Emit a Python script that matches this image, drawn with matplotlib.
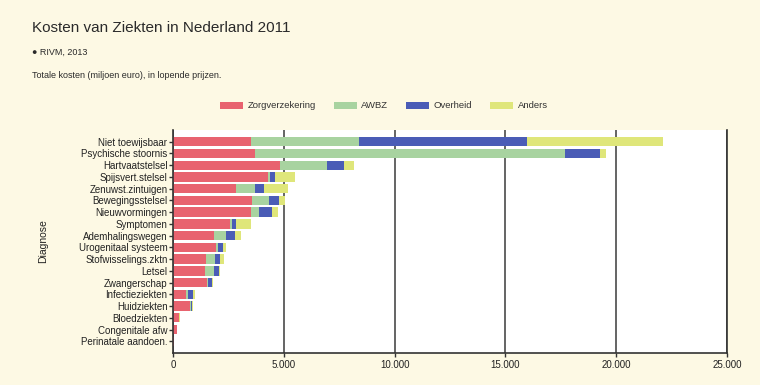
import matplotlib
matplotlib.use("Agg")
import matplotlib.pyplot as plt
from matplotlib.ticker import FuncFormatter
import numpy as np

plt.rcParams['font.family'] = ['Liberation Sans', 'DejaVu Sans']

categories = ["Niet toewijsbaar", "Psychische stoornis", "Hartvaatstelsel", "Spijsvert.stelsel",
              "Zenuwst.zintuigen", "Bewegingsstelsel", "Nieuwvormingen", "Symptomen",
              "Ademhalingswegen", "Urogenitaal systeem", "Stofwisselings.zktn", "Letsel",
              "Zwangerschap", "Infectieziekten", "Huidziekten", "Bloedziekten",
              "Congenitale afw", "Perinatale aandoen."]

zorgverzekering = [3510, 3710, 4830, 4280, 2830, 3560, 3510, 2570, 1840, 1930, 1470, 1450, 1540, 570, 770, 260, 170, 40]
awbz            = [4880, 13960, 2130, 110, 880, 790, 370, 110, 530, 110, 420, 420, 40, 90, 60, 20, 10, 5]
overheid        = [7570, 1600, 770, 220, 400, 440, 590, 180, 440, 200, 240, 220, 180, 260, 40, 10, 5, 5]
anders          = [6140, 290, 440, 880, 1090, 260, 290, 660, 260, 130, 150, 40, 40, 70, 20, 20, 15, 5]

series_names = ["Zorgverzekering", "AWBZ", "Overheid", "Anders"]
colors = ["#e8636f", "#a8d3a0", "#4a5cb6", "#dfe67a"]

bg = "#fdf9e4"
fig = plt.figure(figsize=(7.6, 3.85), dpi=100, facecolor=bg)
ax = fig.add_axes([173/760, 1-353/385, (727-173)/760, (353-130)/385])
ax.set_facecolor("white")

y = np.arange(len(categories))
left = np.zeros(len(categories))
handles = []
for name, vals, c in zip(series_names, [zorgverzekering, awbz, overheid, anders], colors):
    v = np.array(vals, dtype=float)
    h = ax.barh(y, v, left=left, height=0.8, color=c, label=name, zorder=2)
    handles.append(h)
    left += v

ax.set_ylim(len(categories), -1)
ax.set_xlim(0, 25000)
ax.set_xticks([0, 5000, 10000, 15000, 20000, 25000])
ax.xaxis.set_major_formatter(FuncFormatter(lambda v, p: f"{int(v):,}".replace(",", ".")))
ax.set_yticks(y)
ax.set_yticklabels(categories)
ax.grid(axis='x', color="#3a3a3a", linewidth=1.1, zorder=1)
ax.set_axisbelow(True)

ax.spines['top'].set_visible(False)
for s in ['left', 'bottom', 'right']:
    ax.spines[s].set_color("#333333")
    ax.spines[s].set_linewidth(1.2)

ax.tick_params(axis='y', length=3, width=1, color="#333333", labelsize=7, pad=1, labelcolor="#222222")
ax.tick_params(axis='x', length=3, width=1, color="#333333", labelsize=7, pad=2, labelcolor="#222222")
ax.set_ylabel("Diagnose", fontsize=7.5, color="#222222", labelpad=22)

fig.text(32/760, 1-28/385, "Kosten van Ziekten in Nederland 2011", fontsize=11, color="#2a2a2a", va="center", ha="left")
fig.text(32/760, 1-52/385, "\u25cf RIVM, 2013", fontsize=6.5, color="#2a2a2a", va="center", ha="left")
fig.text(32/760, 1-75/385, "Totale kosten (miljoen euro), in lopende prijzen.", fontsize=6.5, color="#2a2a2a", va="center", ha="left")

fig.legend(handles=handles, labels=series_names, loc="center", bbox_to_anchor=(384/760, 1-106/385),
           ncol=4, frameon=False, fontsize=6.8, handlelength=2.4, handleheight=0.8, columnspacing=1.9,
           handletextpad=0.5, labelcolor="#333333")

fig.savefig("out.png", dpi=100, facecolor=bg)
